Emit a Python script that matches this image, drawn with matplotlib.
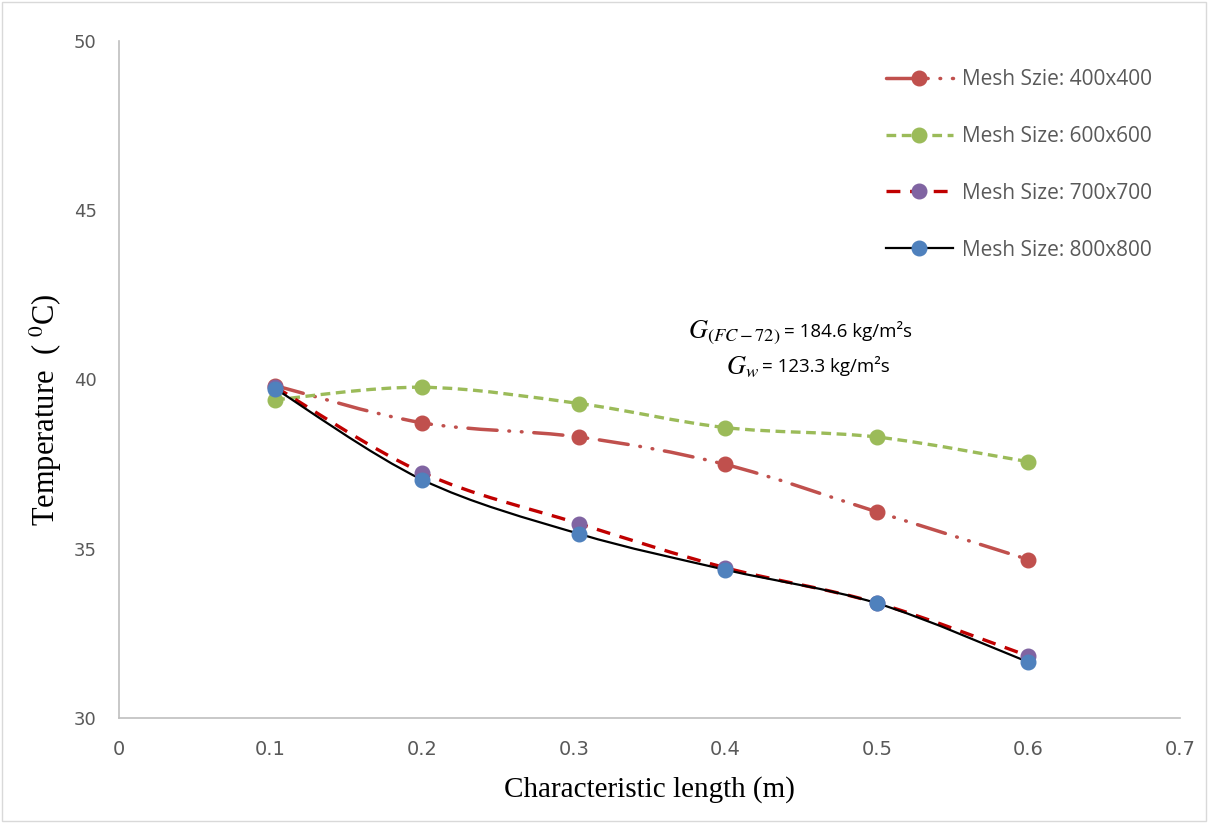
import matplotlib
matplotlib.use("Agg")
import matplotlib.pyplot as plt
from matplotlib.path import Path
from matplotlib.patches import PathPatch
from matplotlib.lines import Line2D
import numpy as np

plt.rcParams['lines.scale_dashes'] = False
plt.rcParams['mathtext.fontset'] = 'stix'

x_vals = [0.103, 0.2, 0.3035, 0.4, 0.5, 0.6]
mesh_400 = [39.82, 38.72, 38.30, 37.49, 36.09, 34.68]
mesh_600 = [39.40, 39.77, 39.29, 38.58, 38.30, 37.57]
mesh_700 = [39.78, 37.25, 35.74, 34.44, 33.40, 31.83]
mesh_800 = [39.73, 37.04, 35.44, 34.38, 33.39, 31.65]
labels = ["Mesh Szie: 400x400", "Mesh Size: 600x600",
          "Mesh Size: 700x700", "Mesh Size: 800x800"]
x_ticks = [0, 0.1, 0.2, 0.3, 0.4, 0.5, 0.6, 0.7]
y_ticks = [30, 35, 40, 45, 50]

series = [
    dict(y=mesh_400, color='#C0504D', mcolor='#C0504D', lw=2.5,
         ls=(0, (21, 8.5, 0.5, 8.5, 0.5, 8.5)), cap='round'),
    dict(y=mesh_600, color='#9BBB59', mcolor='#9BBB59', lw=2.4,
         ls=(0, (7, 4)), cap='butt'),
    dict(y=mesh_700, color='#C00000', mcolor='#8064A2', lw=2.4,
         ls=(0, (10, 7)), cap='butt'),
    dict(y=mesh_800, color='#000000', mcolor='#4F81BD', lw=1.6,
         ls='-', cap='butt'),
]


def smooth_path(xs, ys):
    pts = np.column_stack([xs, ys]).astype(float)
    n = len(pts)
    verts = [pts[0]]
    codes = [Path.MOVETO]
    for i in range(n - 1):
        p0 = pts[i - 1] if i > 0 else pts[i]
        p1 = pts[i]
        p2 = pts[i + 1]
        p3 = pts[i + 2] if i + 2 < n else pts[i + 1]
        c1 = p1 + (p2 - p0) / 6.0
        c2 = p2 - (p3 - p1) / 6.0
        verts += [c1, c2, p2]
        codes += [Path.CURVE4] * 3
    return Path(verts, codes)


fig = plt.figure(figsize=(12.08, 8.23), dpi=100)
ax = fig.add_axes([0.0985, 0.1276, 0.8783, 0.8226])

handles = []
for s in series:
    patch = PathPatch(smooth_path(x_vals, s['y']), facecolor='none',
                      edgecolor=s['color'], lw=s['lw'], linestyle=s['ls'],
                      capstyle=s['cap'], zorder=2)
    ax.add_patch(patch)
for s in series:
    ax.plot(x_vals, s['y'], linestyle='none', marker='o', markersize=10.5,
            markerfacecolor=s['mcolor'], markeredgecolor=s['mcolor'], zorder=3)
for s in series:
    h = Line2D([0], [0], color=s['color'], lw=s['lw'], linestyle=s['ls'],
               dash_capstyle=s['cap'], marker='o', markersize=10.5,
               markerfacecolor=s['mcolor'], markeredgecolor=s['mcolor'])
    handles.append(h)

ax.set_xlim(0, 0.7)
ax.set_ylim(30, 50)
ax.set_xticks(x_ticks)
ax.set_xticklabels([f"{v:g}" for v in x_ticks], family='Liberation Sans Narrow',
                   fontsize=14, color='#595959')
ax.set_yticks(y_ticks)
ax.set_yticklabels([str(v) for v in y_ticks], family='DejaVu Sans',
                   fontsize=13, color='#595959')
ax.tick_params(length=0)
ax.tick_params(axis='x', pad=16)
ax.tick_params(axis='y', pad=16)
for sp in ['top', 'right']:
    ax.spines[sp].set_visible(False)
for sp in ['left', 'bottom']:
    ax.spines[sp].set_color('#BFBFBF')
    ax.spines[sp].set_linewidth(1.2)

ax.set_xlabel('Characteristic length (m)', family='Liberation Serif',
              fontsize=21)
ax.xaxis.set_label_coords(0.5, -(776 - 718) / 677, transform=ax.transAxes)
ax.set_ylabel(r'Temperature  ( $^{0}$C)', family='Liberation Serif',
              fontsize=22)
ax.yaxis.set_label_coords(-(119 - 64) / 1061, (718 - 410) / 677)

leg = ax.legend(handles, labels, loc='upper left',
                bbox_to_anchor=(886 / 1208, 1 - 69 / 823),
                bbox_transform=fig.transFigure, frameon=False,
                prop={'family': 'Open Sans', 'size': 15},
                labelspacing=1.72, handlelength=3.2, handletextpad=0.43,
                borderaxespad=0, borderpad=0)
for t in leg.get_texts():
    t.set_color('#595959')

fig.text(781 / 1208, 1 - 333 / 823, r'$G_{(FC-72)}$', ha='right', va='center',
         fontsize=19)
fig.text(784 / 1208, 1 - 331 / 823, '= 184.6 kg/m²s', ha='left', va='center',
         family='Open Sans', fontsize=13.5)
fig.text(759 / 1208, 1 - 367 / 823, r'$G_{w}$', ha='right', va='center',
         fontsize=19)
fig.text(762 / 1208, 1 - 366 / 823, '= 123.3 kg/m²s', ha='left', va='center',
         family='Open Sans', fontsize=13.5)

border = plt.Rectangle((0.002, 0.002), 0.996, 0.996, transform=fig.transFigure,
                       fill=False, edgecolor='#D9D9D9', lw=1)
fig.patches.append(border)

fig.savefig('out.png', dpi=100)
